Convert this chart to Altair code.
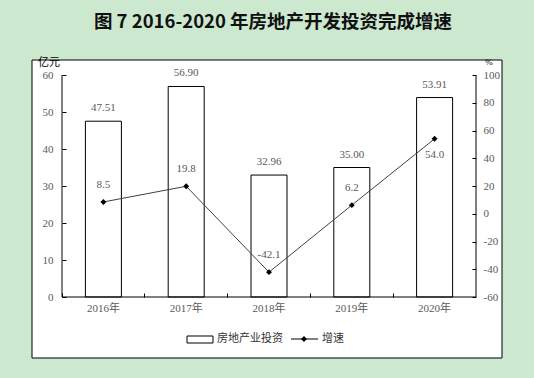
import altair as alt
import pandas as pd

years = ["2016年", "2017年", "2018年", "2019年", "2020年"]
invest = [47.51, 56.90, 32.96, 35.00, 53.91]
growth = [8.5, 19.8, -42.1, 6.2, 54.0]

df = pd.DataFrame({"year": years, "invest": invest, "growth": growth})

NUM_FONT = "Liberation Serif, Noto Sans CJK SC"
CJK_FONT = "Noto Sans CJK SC"
GREY = "#595959"
W, H = 414, 222

xenc = alt.X("year:N", sort=years, title=None,
             scale=alt.Scale(paddingInner=0, paddingOuter=0),
             axis=alt.Axis(orient="bottom", offset=-4, domain=False, tickSize=4,
                           tickColor="black", tickWidth=1, bandPosition=0,
                           labelFont=NUM_FONT, labelFontSize=11, labelColor=GREY,
                           labelPadding=5, labelAngle=0, zindex=2))

yl = alt.Scale(domain=[0, 60])
yr = alt.Scale(domain=[-60, 100])

base = alt.Chart(df).transform_calculate(
    glabel="replace(format(datum.growth, '.1f'), '\u2212', '-')")
one = alt.Data(values=[{}])

box = alt.Chart(one).mark_rect(fill="white", stroke="black", strokeWidth=1).encode(
    x=alt.value(-30), x2=alt.value(440), y=alt.value(-15), y2=alt.value(283))

bars = base.mark_bar(size=36, fill="white", stroke="black", strokeWidth=1).encode(
    x=xenc,
    y=alt.Y("invest:Q", scale=yl, title=None,
            axis=alt.Axis(orient="left", offset=-4, domain=False, tickSize=4,
                          tickColor="black", values=[0, 10, 20, 30, 40, 50, 60],
                          labelFont=NUM_FONT, labelFontSize=11, labelColor=GREY,
                          labelPadding=9, grid=False, zindex=2)))

bar_labels = base.mark_text(dy=-13, font=NUM_FONT, fontSize=11, color=GREY,
                            baseline="middle").encode(
    x=xenc,
    y=alt.Y("invest:Q", scale=yl, axis=None),
    text=alt.Text("invest:Q", format=".2f"))

line = base.mark_line(color="#404040", strokeWidth=1,
                      point=alt.OverlayMarkDef(shape="diamond", filled=True,
                                               color="black", size=35)).encode(
    x=xenc,
    y=alt.Y("growth:Q", scale=yr, title=None,
            axis=alt.Axis(orient="right", offset=-4, domain=False, tickSize=4,
                          tickColor="black", values=list(range(-60, 101, 20)),
                          labelExpr="replace(datum.label, '\u2212', '-')",
                          labelFont=NUM_FONT, labelFontSize=11, labelColor=GREY,
                          labelPadding=7, grid=False, zindex=2)))

g_up = base.transform_filter(alt.datum.year != "2020年").mark_text(
    dy=-17, font=NUM_FONT, fontSize=11, color=GREY, baseline="middle").encode(
    x=xenc, y=alt.Y("growth:Q", scale=yr, axis=None),
    text="glabel:N")

g_down = base.transform_filter(alt.datum.year == "2020年").mark_text(
    dy=16, font=NUM_FONT, fontSize=11, color=GREY, baseline="middle").encode(
    x=xenc, y=alt.Y("growth:Q", scale=yr, axis=None),
    text="glabel:N")

left_dom = alt.Chart(one).mark_rule(color="black", strokeWidth=1).encode(
    x=alt.value(0), y=alt.value(0), y2=alt.value(H))
right_dom = alt.Chart(one).mark_rule(color="black", strokeWidth=1).encode(
    x=alt.value(W), y=alt.value(0), y2=alt.value(H))
bottom_dom = alt.Chart(one).mark_rule(color="black", strokeWidth=1).encode(
    x=alt.value(0), x2=alt.value(W), y=alt.value(H))

title = alt.Chart(one).mark_text(text="图 7  2016-2020 年房地产开发投资完成增速",
                                 font=CJK_FONT, fontSize=18.5, fontWeight="bold",
                                 color="#111111", align="center", baseline="middle").encode(
    x=alt.value(211), y=alt.value(-53))

unit_l = alt.Chart(one).mark_text(text="亿元", font=CJK_FONT, fontSize=11,
                                  color="black", align="center", baseline="middle").encode(
    x=alt.value(-13), y=alt.value(-12))
unit_r = alt.Chart(one).mark_text(text="%", font=NUM_FONT, fontSize=9,
                                  color="black", align="center", baseline="middle").encode(
    x=alt.value(427), y=alt.value(-13))

leg_rect = alt.Chart(one).mark_rect(fill="white", stroke="black", strokeWidth=1).encode(
    x=alt.value(125), x2=alt.value(151), y=alt.value(261), y2=alt.value(268))
leg_t1 = alt.Chart(one).mark_text(text="房地产业投资", font=CJK_FONT, fontSize=11,
                                  color="#333333", align="left", baseline="middle").encode(
    x=alt.value(155), y=alt.value(264))
leg_line = alt.Chart(one).mark_rule(color="black", strokeWidth=1).encode(
    x=alt.value(229), x2=alt.value(256), y=alt.value(264))
leg_pt = alt.Chart(one).mark_point(shape="diamond", filled=True, color="black",
                                   size=35, opacity=1).encode(
    x=alt.value(242), y=alt.value(264))
leg_t2 = alt.Chart(one).mark_text(text="增速", font=CJK_FONT, fontSize=11,
                                  color="#333333", align="left", baseline="middle").encode(
    x=alt.value(260), y=alt.value(264))

chart = alt.layer(
    box, bars, bar_labels, line, g_up, g_down,
    left_dom, right_dom, bottom_dom, title, unit_l, unit_r,
    leg_rect, leg_t1, leg_line, leg_pt, leg_t2
).resolve_scale(y="independent").properties(
    width=W, height=H, autosize="none",
    padding={"left": 62, "top": 75, "right": 58, "bottom": 81},
    background="#cce8cf"
).configure_view(stroke=None)

chart.save("out.html", embed_options={"renderer": "svg", "actions": False})
